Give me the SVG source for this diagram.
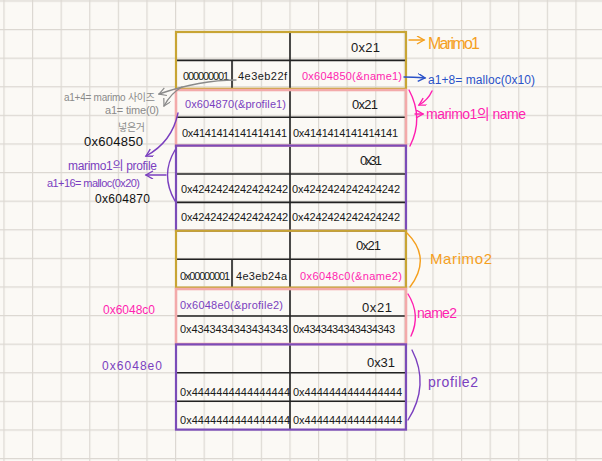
<svg xmlns="http://www.w3.org/2000/svg" width="602" height="461" viewBox="0 0 602 461">
<style>
text{font-family:"Liberation Sans","Noto Sans CJK KR",sans-serif;}
.c{font-size:11px;fill:#1a1a1a;}
.big{font-size:13px;fill:#1a1a1a;}
.mag{fill:#ff1fb0;}
.pur{fill:#7a3fbf;}
.blu{fill:#2a52c8;}
.org{fill:#f5a01e;}
.gry{fill:#8a8a8a;}
.in{stroke:#222;stroke-width:1.6;fill:none;}
.gold{stroke:#c8a534;stroke-width:2.2;fill:none;}
.pink{stroke:#f3aaaa;stroke-width:2.6;fill:none;}
.purp{stroke:#7b4cb8;stroke-width:2.2;fill:none;}
.ln{fill:none;stroke-width:1.4;stroke-linecap:round;}
</style>
<defs>
<pattern id="grid" patternUnits="userSpaceOnUse" x="3.4" y="0.4" width="28.6" height="28.6">
<path d="M0.6,0 V28.6 M0,0.6 H28.6" stroke="#dcd8d2" stroke-width="1.2" fill="none"/>
</pattern>
<marker id="aOrg" markerUnits="userSpaceOnUse" markerWidth="10" markerHeight="10" refX="8" refY="4" orient="auto"><path d="M1,0 L8,4 L1,8" fill="none" stroke="#f5a01e" stroke-width="1.4"/></marker>
<marker id="aBlu" markerUnits="userSpaceOnUse" markerWidth="10" markerHeight="10" refX="8" refY="4" orient="auto"><path d="M1,0 L8,4 L1,8" fill="none" stroke="#2a52c8" stroke-width="1.4"/></marker>
<marker id="aMag" markerUnits="userSpaceOnUse" markerWidth="10" markerHeight="10" refX="8" refY="4" orient="auto"><path d="M1,0 L8,4 L1,8" fill="none" stroke="#ff1fb0" stroke-width="1.4"/></marker>
<marker id="aPur" markerUnits="userSpaceOnUse" markerWidth="10" markerHeight="10" refX="8" refY="4" orient="auto"><path d="M1,0 L8,4 L1,8" fill="none" stroke="#7a3fbf" stroke-width="1.4"/></marker>
<marker id="aGry" markerUnits="userSpaceOnUse" markerWidth="10" markerHeight="10" refX="8" refY="4" orient="auto"><path d="M1,0 L8,4 L1,8" fill="none" stroke="#8a8a8a" stroke-width="1.2"/></marker>
</defs>
<rect width="602" height="461" fill="#fbf9f5"/>
<rect width="602" height="461" fill="url(#grid)"/>

<g id="table-lines">
<path class="in" d="M176,60.4 H406 M176,117.2 H406 M176,174 H406 M176,202.4 H406 M176,259.2 H406 M176,316 H406 M176,372.8 H406 M176,401.2 H406 M290,32 V429.6 M232,60.4 V88.8 M232,259.2 V287.6"/>
</g>

<g id="marimo1">
<rect class="gold" x="176" y="32" width="230" height="56.8"/>
<text class="big" x="351" y="52" textLength="29">0x21</text>
<text class="c" x="183" y="80" textLength="46" font-size="10">000000001</text>
<text class="c" x="238" y="80" textLength="49">4e3eb22f</text>
<text class="c mag" x="302" y="80" textLength="100">0x604850(&amp;name1)</text>
</g>

<g id="name1">
<rect class="pink" x="176" y="90" width="230" height="55.6"/>
<text class="c pur" x="185" y="108" textLength="101">0x604870(&amp;profile1)</text>
<text class="big" x="352" y="109" textLength="26">0x21</text>
<text class="c" x="182" y="137" textLength="105">0x4141414141414141</text>
<text class="c" x="293" y="137" textLength="105">0x4141414141414141</text>
</g>

<g id="profile1">
<rect class="purp" x="176" y="145.6" width="230" height="85.2"/>
<text class="big" x="360" y="165" textLength="22">0x31</text>
<text class="c" x="181" y="193" textLength="107">0x4242424242424242</text>
<text class="c" x="292" y="193" textLength="108">0x4242424242424242</text>
<text class="c" x="181" y="221" textLength="107">0x4242424242424242</text>
<text class="c" x="292" y="221" textLength="108">0x4242424242424242</text>
</g>

<g id="marimo2">
<rect class="gold" x="176" y="230.8" width="230" height="56.8"/>
<text class="big" x="356" y="250" textLength="25">0x21</text>
<text class="c" x="180" y="280" textLength="50" font-size="10">0x00000001</text>
<text class="c" x="236" y="280" textLength="51">4e3eb24a</text>
<text class="c mag" x="300" y="280" textLength="102">0x6048c0(&amp;name2)</text>
</g>

<g id="name2">
<rect class="pink" x="176" y="289" width="230" height="55"/>
<text class="c pur" x="180" y="309" textLength="103">0x6048e0(&amp;profile2)</text>
<text class="big" x="362" y="312" textLength="30">0x21</text>
<text class="c" x="180" y="333" textLength="108">0x4343434343434343</text>
<text class="c" x="293" y="333" textLength="102">0x4343434343434343</text>
</g>

<g id="profile2">
<rect class="purp" x="176" y="344.4" width="230" height="85.2"/>
<text class="big" x="367" y="367" textLength="28">0x31</text>
<text class="c" x="180" y="396" textLength="110">0x4444444444444444</text>
<text class="c" x="293" y="396" textLength="109">0x4444444444444444</text>
<text class="c" x="180" y="424" textLength="110">0x4444444444444444</text>
<text class="c" x="293" y="424" textLength="109">0x4444444444444444</text>
</g>

<g id="connectors">
<path class="ln" stroke="#f5a01e" d="M409,40 H424" marker-end="url(#aOrg)"/>
<path class="ln" stroke="#2a52c8" d="M404,77 Q412,77 425,78" marker-end="url(#aBlu)"/>
<path class="ln" stroke="#ff1fb0" d="M432,91 Q428,100 419,105" marker-end="url(#aMag)"/>
<path class="ln" stroke="#ff1fb0" stroke-width="1.8" d="M409,90 Q424,118 410,146"/>
<path class="ln" stroke="#ff1fb0" d="M415,114 H423" marker-end="url(#aMag)"/>
<path class="ln" stroke="#f5a01e" stroke-width="1.8" d="M407,233 Q432,258 410,287"/>
<path class="ln" stroke="#ff1fb0" stroke-width="1.8" d="M408,294 Q421,315 411,336"/>
<path class="ln" stroke="#7a3fbf" stroke-width="1.8" d="M412,350 Q430,385 408,420"/>
<path class="ln" stroke="#8a8a8a" stroke-width="1.1" d="M236,80 Q200,80 159,94" marker-end="url(#aGry)"/>
<path class="ln" stroke="#8a8a8a" stroke-width="1.1" d="M182,87 Q171,93 164,106" marker-end="url(#aGry)"/>
<path class="ln" stroke="#7a3fbf" d="M178,113 Q172,142 146,156" marker-end="url(#aPur)"/>
<path class="ln" stroke="#7a3fbf" stroke-width="1.8" d="M175,150 Q160,175 175,201"/>
<path class="ln" stroke="#7a3fbf" d="M166,175 H146" marker-end="url(#aPur)"/>
</g>

<g id="labels">
<text class="org" x="428" y="49" font-size="16" textLength="52">Marimo1</text>
<text class="blu" x="428" y="84" font-size="12" textLength="107">a1+8= malloc(0x10)</text>
<text class="mag" x="426" y="119" font-size="14" textLength="100">marimo1의 name</text>
<text class="org" x="430" y="264" font-size="15" textLength="62">Marimo2</text>
<text class="mag" x="417" y="318" font-size="14" textLength="40">name2</text>
<text class="pur" x="428" y="387" font-size="14" textLength="50">profile2</text>
<text class="gry" x="64" y="101" font-size="10" textLength="91">a1+4= marimo 사이즈</text>
<text class="gry" x="105" y="114" font-size="11" textLength="54">a1= time(0)</text>
<text class="gry" x="118" y="131" font-size="10" textLength="27">넣은거</text>
<text x="84" y="146" font-size="13" fill="#111" textLength="59">0x604850</text>
<text class="pur" x="68" y="170" font-size="12" textLength="89">marimo1의 profile</text>
<text class="pur" x="47" y="187" font-size="11" textLength="93">a1+16= malloc(0x20)</text>
<text x="95" y="203" font-size="12" fill="#111" textLength="55">0x604870</text>
<text class="mag" x="103" y="314" font-size="12" textLength="52">0x6048c0</text>
<text class="pur" x="102" y="370" font-size="12" textLength="60">0x6048e0</text>
</g>
</svg>
